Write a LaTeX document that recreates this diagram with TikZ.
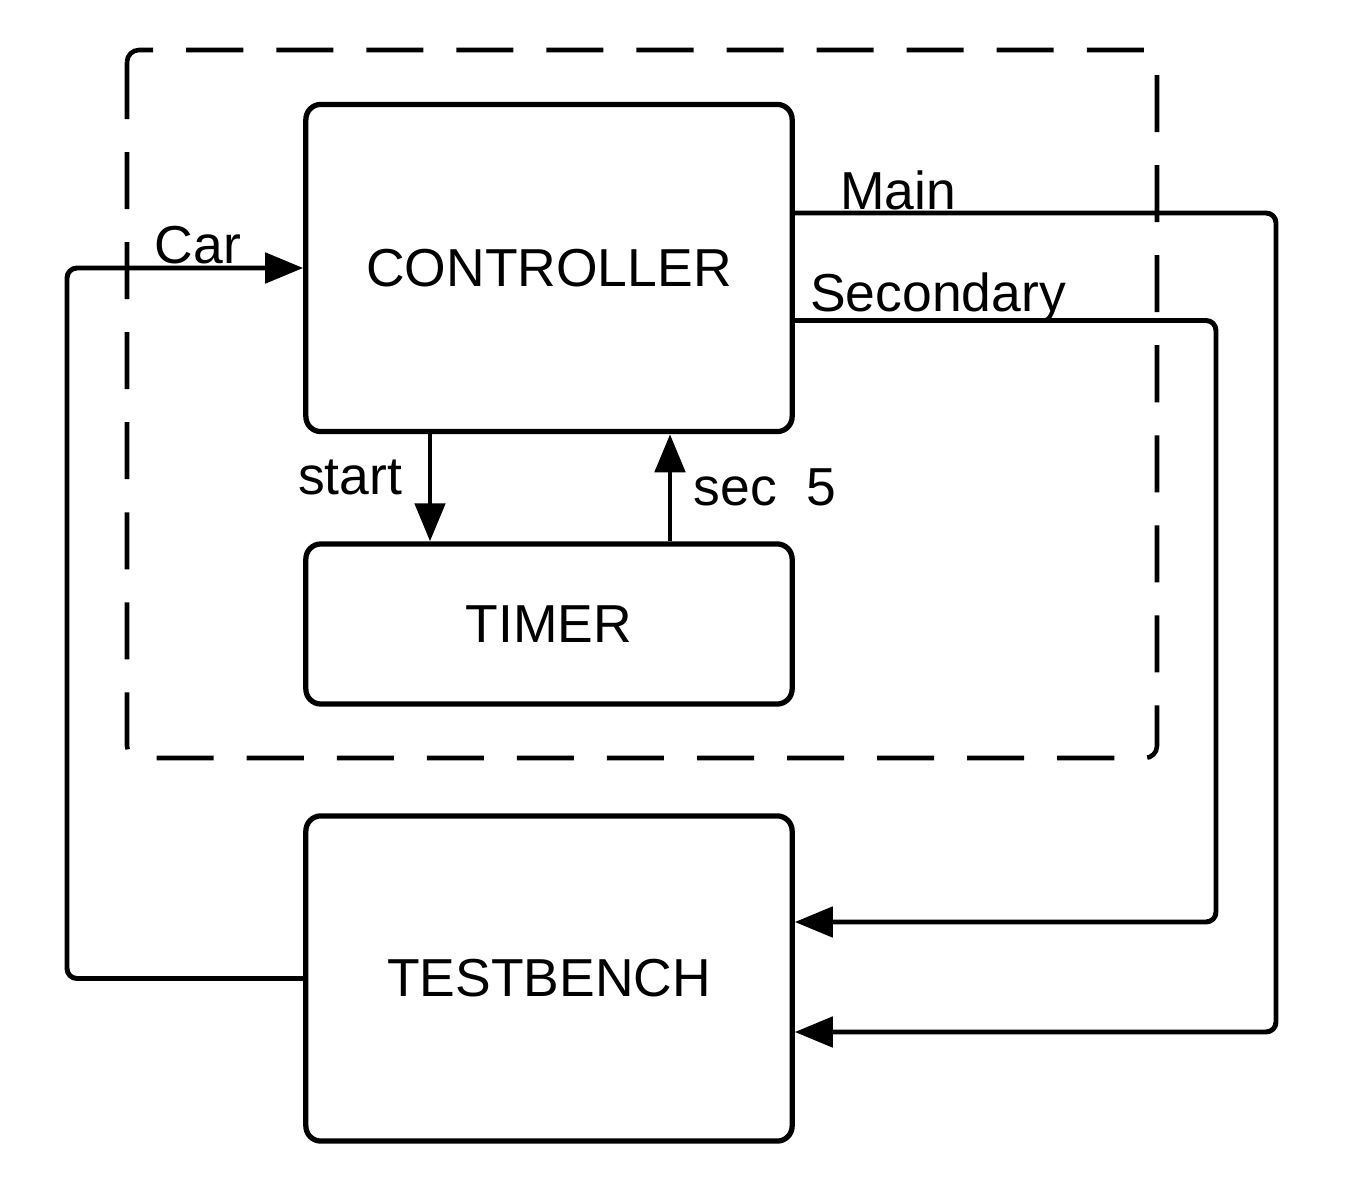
\documentclass[tikz,border=0pt]{standalone}
\usepackage{fontspec}
\setmainfont{Liberation Sans}
\usetikzlibrary{arrows.meta,calc}
\tikzset{
    block/.style={draw=black, line width=1.5pt, rounded corners=1.5mm, align=center,
        inner sep=0pt, font=\fontsize{15.2}{18}\selectfont},
    group/.style={draw=black, line width=1.3pt, rounded corners=1.2mm,
        dash pattern=on 5.7mm off 3.3mm},
    flow/.style={-{Triangle[length=3.8mm,width=3mm]}, line width=1.4pt, rounded corners=1mm},
    sig/.style={font=\fontsize{15.2}{18}\selectfont, inner sep=0pt}
}
\begin{document}
\begin{tikzpicture}[x=0.01cm, y=-0.01cm]
\useasboundingbox (0,0) rectangle (1351,1194);

\draw[group] (127,50) rectangle (1157,758);

\node[block, minimum width=4.86cm, minimum height=3.27cm] (ctrl) at (549,268) {CONTROLLER};
\node[block, minimum width=4.86cm, minimum height=1.6cm] (timer) at (549,624) {TIMER};
\node[block, minimum width=4.86cm, minimum height=3.25cm] (tb) at (549,978.5) {TESTBENCH};

\coordinate (carturn) at (67,268);
\coordinate (mainturn) at (1276,1032);
\coordinate (secturn) at (1216,922);

\draw[flow] (tb.west) -| (carturn) -- (ctrl.west);
\draw[flow] ($(ctrl.east)+(0,-55)$) -| (mainturn) -- ($(tb.east)+(0,53.5)$);
\draw[flow] ($(ctrl.east)+(0,52.5)$) -| (secturn) -- ($(tb.east)+(0,-56.5)$);
\draw[flow] ($(ctrl.south)+(-119,0)$) -- ($(timer.north)+(-119,0)$);
\draw[flow] ($(timer.north)+(121,0)$) -- ($(ctrl.south)+(121,0)$);

\node[sig] (car) at (198,245) {Car};
\node[sig] (main) at (898,190) {Main};
\node[sig] (sec) at (938,298) {Secondary};
\node[sig] (start) at (350,477) {start};
\node[sig] (sec5) at (765,487) {sec~~5};
\end{tikzpicture}
\end{document}
